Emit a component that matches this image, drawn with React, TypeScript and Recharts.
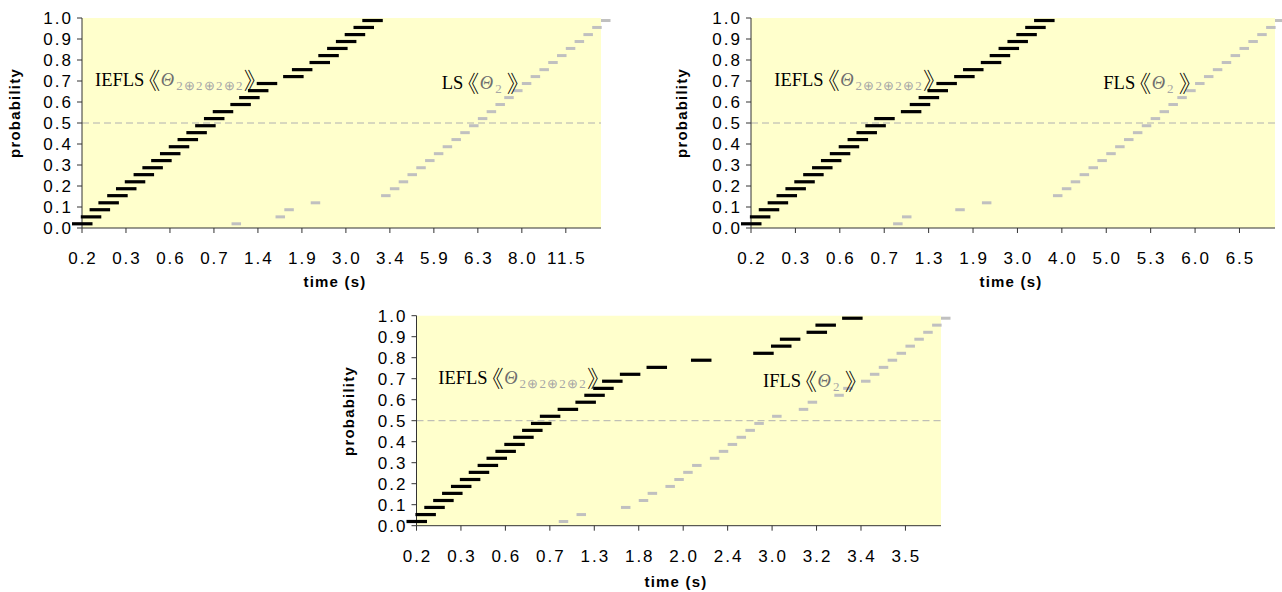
import React from 'react';
import { ScatterChart, Scatter, XAxis, YAxis, ReferenceArea, ReferenceLine } from 'recharts';

// probability levels of the k-th finished run (30 runs per series)
const PROB_LEVELS = [
  0.020, 0.053, 0.087, 0.120, 0.154, 0.187, 0.220, 0.254, 0.287, 0.321,
  0.354, 0.387, 0.421, 0.454, 0.487, 0.521, 0.554, 0.588, 0.621, 0.654,
  0.688, 0.721, 0.754, 0.788, 0.821, 0.855, 0.888, 0.921, 0.955, 0.988,
];

const Y_TICKS = [0, 0.1, 0.2, 0.3, 0.4, 0.5, 0.6, 0.7, 0.8, 0.9, 1.0];
const X_TICK_POS = [0, 5, 10, 15, 20, 25, 30, 35, 40, 45, 50, 55];

const P1_TIME_LABELS = ['0.2', '0.3', '0.6', '0.7', '1.4', '1.9', '3.0', '3.4', '5.9', '6.3', '8.0', '11.5'];
const P2_TIME_LABELS = ['0.2', '0.3', '0.6', '0.7', '1.3', '1.9', '3.0', '4.0', '5.0', '5.3', '6.0', '6.5'];
const P3_TIME_LABELS = ['0.2', '0.3', '0.6', '0.7', '1.3', '1.8', '2.0', '2.4', '3.0', '3.2', '3.4', '3.5'];

// category index (position in the merged, sorted time list) of each run
const P1_IEFLS_IDX = [0, 1, 2, 3, 4, 5, 6, 7, 8, 9, 10, 11, 12, 13, 14, 15, 16, 18, 19, 20, 21, 24, 25, 27, 28, 29, 30, 31, 32, 33];
const P1_LS_IDX = [17, 22, 23, 26, 34, 35, 36, 37, 38, 39, 40, 41, 42, 43, 44, 45, 46, 47, 48, 49, 50, 51, 52, 53, 54, 55, 56, 57, 58, 59];

const P2_IEFLS_IDX = [0, 1, 2, 3, 4, 5, 6, 7, 8, 9, 10, 11, 12, 13, 14, 15, 18, 19, 20, 21, 22, 24, 25, 27, 28, 29, 30, 31, 32, 33];
const P2_FLS_IDX = [16, 17, 23, 26, 34, 35, 36, 37, 38, 39, 40, 41, 42, 43, 44, 45, 46, 47, 48, 49, 50, 51, 52, 53, 54, 55, 56, 57, 58, 59];

const P3_IEFLS_IDX = [0, 1, 2, 3, 4, 5, 6, 7, 8, 9, 10, 11, 12, 13, 14, 15, 17, 19, 20, 21, 22, 24, 27, 32, 39, 41, 42, 45, 46, 49];
const P3_IFLS_IDX = [16, 18, 23, 25, 26, 28, 29, 30, 31, 33, 34, 35, 36, 37, 38, 40, 43, 44, 47, 48, 50, 51, 52, 53, 54, 55, 56, 57, 58, 59];

const toPoints = (idx: number[]) => idx.map((c, k) => ({ x: c, y: PROB_LEVELS[k] }));

const AXIS = '#333333';
const SANS = '"Liberation Sans", Arial, sans-serif';
const SERIF = '"Liberation Serif", "Times New Roman", serif';
const CJK = '"Noto Sans CJK SC", sans-serif';
const LS = 2;

const BlackDash = (p: any) => (
  <rect x={p.cx - 10} y={p.cy - 1.6} width={20.5} height={3.2} fill="#000000" />
);
const GrayDash = (p: any) => (
  <rect x={p.cx} y={p.cy - 1.5} width={9.5} height={3} fill="#c0c0c0" />
);

function Panel(props: any) {
  const { left, top, width, height, margin, yWidth, xHeight, labels, black, gray } = props;
  const xTick = (t: any) => {
    const i = Math.round(t.payload.value / 5);
    return (
      <text x={t.x + LS / 2} y={t.y + 31} textAnchor="middle" fontFamily={SANS} fontSize={17} letterSpacing={LS} fill="#000">
        {labels[i]}
      </text>
    );
  };
  const yTick = (t: any) => (
    <text x={t.x + LS} y={t.y} dy="0.355em" textAnchor="end" fontFamily={SANS} fontSize={17} letterSpacing={LS} fill="#000">
      {Number(t.payload.value).toFixed(1)}
    </text>
  );
  return (
    <div style={{ position: 'absolute', left, top }}>
      <ScatterChart width={width} height={height} margin={margin}>
        <ReferenceArea x1={0} x2={59} y1={0} y2={1} fill="#ffffcc" fillOpacity={1} stroke="none" />
        <ReferenceLine y={0.5} stroke="#b0b0b0" strokeDasharray="7 4" />
        <XAxis
          type="number"
          dataKey="x"
          domain={[0, 59]}
          ticks={X_TICK_POS}
          interval={0}
          height={xHeight}
          tickSize={5}
          tickMargin={0}
          axisLine={{ stroke: AXIS }}
          tickLine={{ stroke: AXIS }}
          tick={xTick}
        />
        <YAxis
          type="number"
          dataKey="y"
          domain={[0, 1]}
          ticks={Y_TICKS}
          interval={0}
          width={yWidth}
          tickSize={5}
          tickMargin={6}
          axisLine={{ stroke: AXIS }}
          tickLine={{ stroke: AXIS }}
          tick={yTick}
        />
        <Scatter data={toPoints(gray)} shape={GrayDash} isAnimationActive={false} />
        <Scatter data={toPoints(black)} shape={BlackDash} isAnimationActive={false} />
      </ScatterChart>
    </div>
  );
}

function Annot({ x, y, name, sub }: { x: number; y: number; name: string; sub: string }) {
  return (
    <text x={x} y={y} fontFamily={SERIF} fontSize={18.5} fill="#000">
      <tspan>{name}</tspan>
      <tspan fontFamily={CJK} fontSize={23} fontWeight={300} dx={-7} dy={3}>《</tspan>
      <tspan fontStyle="italic" fill="#6f6f6f" dx={0.5} dy={-3}>Θ</tspan>
      <tspan fontSize={13} fill="#a6a6a6" dx={2} dy={4} letterSpacing={1.2}>{sub}</tspan>
      <tspan fontFamily={CJK} fontSize={23} fontWeight={300} dx={sub.length === 1 ? 4 : 0} dy={-1}>》</tspan>
    </text>
  );
}

function ProbTitle({ x, y }: { x: number; y: number }) {
  return (
    <text x={x} y={y} transform={`rotate(-90, ${x}, ${y})`} textAnchor="middle" dominantBaseline="central"
      fontFamily={SANS} fontWeight="bold" fontSize={15} letterSpacing={1.2} fill="#000">probability</text>
  );
}
function TimeTitle({ x, y }: { x: number; y: number }) {
  return (
    <text x={x} y={y} textAnchor="middle" dominantBaseline="central"
      fontFamily={SANS} fontWeight="bold" fontSize={15} letterSpacing={1.2} fill="#000">time (s)</text>
  );
}

export default function App() {
  return (
    <div style={{ position: 'absolute', left: 0, top: 0, width: 1282, height: 592, overflow: 'hidden', background: '#fff' }}>
      <Panel left={0} top={0} width={640} height={300} margin={{ top: 18, right: 39, left: 0, bottom: 12 }}
        yWidth={82} xHeight={60} labels={P1_TIME_LABELS} black={P1_IEFLS_IDX} gray={P1_LS_IDX} />
      <Panel left={641} top={0} width={641} height={300} margin={{ top: 18, right: 7, left: 0, bottom: 12 }}
        yWidth={110} xHeight={60} labels={P2_TIME_LABELS} black={P2_IEFLS_IDX} gray={P2_FLS_IDX} />
      <Panel left={330} top={298} width={640} height={294} margin={{ top: 17.7, right: 29, left: 0, bottom: 10 }}
        yWidth={86.5} xHeight={56.3} labels={P3_TIME_LABELS} black={P3_IEFLS_IDX} gray={P3_IFLS_IDX} />
      <svg width={1282} height={592} style={{ position: 'absolute', left: 0, top: 0, pointerEvents: 'none' }}>
        <ProbTitle x={14} y={113} />
        <ProbTitle x={681} y={113} />
        <ProbTitle x={348.3} y={411} />
        <TimeTitle x={335} y={281} />
        <TimeTitle x={1011} y={281} />
        <TimeTitle x={676} y={581} />
        <Annot x={95} y={86} name="IEFLS" sub="2⊕2⊕2⊕2" />
        <Annot x={441.7} y={88.5} name="LS" sub="2" />
        <Annot x={774.3} y={86} name="IEFLS" sub="2⊕2⊕2⊕2" />
        <Annot x={1103.3} y={88.5} name="FLS" sub="2" />
        <Annot x={438.3} y={384} name="IEFLS" sub="2⊕2⊕2⊕2" />
        <Annot x={763} y={386.5} name="IFLS" sub="2" />
      </svg>
    </div>
  );
}
